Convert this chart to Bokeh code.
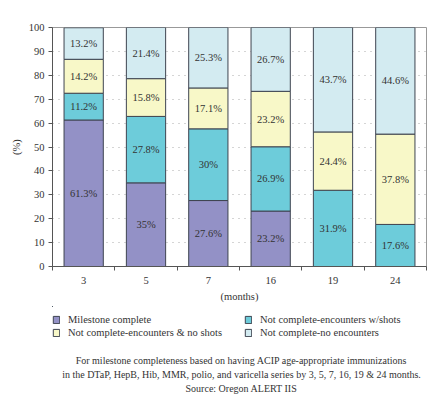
from bokeh.plotting import figure
from bokeh.models import (FixedTicker, ColumnDataSource, Legend, LegendItem, Label,
                          Range1d, LabelSet)
from bokeh.layouts import column
from bokeh.embed import file_html
from bokeh.resources import INLINE

months = ["3", "5", "7", "16", "19", "24"]
series = ["Milestone complete", "Not complete-encounters w/shots",
          "Not complete-encounters & no shots", "Not complete-no encounters"]
milestone = [61.3, 35, 27.6, 23.2, 0, 0]
w_shots = [11.2, 27.8, 30, 26.9, 31.9, 17.6]
no_shots = [14.2, 15.8, 17.1, 23.2, 24.4, 37.8]
no_enc = [13.2, 21.4, 25.3, 26.7, 43.7, 44.6]
colors = ["#9391C6", "#6DCCDA", "#F8F8C8", "#D3EBF1"]
caption = ["For milestone completeness based on having ACIP age-appropriate immunizations",
           "in the DTaP, HepB, Hib, MMR, polio, and varicella series by 3, 5, 7, 16, 19 & 24 months.",
           "Source: Oregon ALERT IIS"]

FONT = "Liberation Serif"
TXT = "#333333"
OUT = "#3e4450"
xs = [i + 0.5 for i in range(len(months))]
data = [milestone, w_shots, no_shots, no_enc]

p = figure(width=430, height=306, output_backend="svg", toolbar_location=None,
           x_range=Range1d(0, len(months)), y_range=Range1d(0, 100),
           min_border_left=52, min_border_top=27, min_border_right=4,
           min_border_bottom=40)
p.outline_line_color = "#999999"
p.background_fill_color = "white"
p.border_fill_color = "white"

bottoms = [0.0] * len(months)
lx, ly, lt = [], [], []
for vals, col in zip(data, colors):
    tops = [b + v for b, v in zip(bottoms, vals)]
    src = ColumnDataSource(dict(x=xs, bottom=bottoms, top=tops))
    p.vbar(x="x", bottom="bottom", top="top", width=0.63, source=src,
           fill_color=col, line_color=OUT, line_width=1)
    for x, b, v in zip(xs, bottoms, vals):
        if v > 0:
            lx.append(x)
            ly.append(b + v / 2)
            lt.append(f"{v:g}%")
    bottoms = tops

lsrc = ColumnDataSource(dict(x=lx, y=ly, t=lt))
p.add_layout(LabelSet(x="x", y="y", text="t", source=lsrc, text_align="center",
                      text_baseline="middle", text_font=FONT, text_font_size="10.5px",
                      text_color=TXT))

# axes
p.xaxis.ticker = FixedTicker(ticks=xs, minor_ticks=list(range(len(months) + 1)))
p.xaxis.major_label_overrides = {x: m for x, m in zip(xs, months)}
p.xaxis.major_tick_out = 0
p.xaxis.major_tick_in = 0
p.xaxis.minor_tick_out = 4
p.xaxis.minor_tick_in = 0
p.xaxis.axis_label = "(months)"
p.yaxis.ticker = FixedTicker(ticks=list(range(0, 101, 10)))
p.yaxis.axis_label = "(%)"
p.yaxis.major_tick_out = 4
p.yaxis.major_tick_in = 0
p.yaxis.minor_tick_out = 0
for ax in (p.xaxis, p.yaxis):
    ax.axis_line_color = "#555555"
    ax.major_tick_line_color = "#555555"
    ax.minor_tick_line_color = "#555555"
    ax.major_label_text_font = FONT
    ax.major_label_text_font_size = "10.5px"
    ax.major_label_text_color = TXT
    ax.axis_label_text_font = FONT
    ax.axis_label_text_font_size = "10.5px"
    ax.axis_label_text_font_style = "normal"
    ax.axis_label_text_color = TXT
p.yaxis.axis_label_standoff = 4
p.yaxis.major_label_standoff = 4
p.xaxis.axis_label_standoff = 4
p.xaxis.major_label_standoff = 6

p.xgrid.grid_line_color = None
p.ygrid.grid_line_color = "#aaaaaa"
p.ygrid.grid_line_dash = "1 5"

# legend + caption panel (its frame is aligned with the chart frame: x 52..426)
H2 = 90
p2 = figure(width=430, height=H2, output_backend="svg", toolbar_location=None,
            x_range=Range1d(1000, 1430), y_range=Range1d(-1000, -1000 + H2),
            x_axis_location=None, y_axis_location=None,
            min_border=0, min_border_left=0, min_border_right=0,
            min_border_top=0, min_border_bottom=0)
p2.grid.visible = False
p2.outline_line_color = None
p2.border_fill_color = "white"

lrs = []
for vals, col in zip(data, colors):
    src = ColumnDataSource(dict(x=xs, top=vals))
    lrs.append(p2.vbar(x="x", top="top", width=0.63, source=src, fill_color=col,
                       line_color=OUT, line_width=1))

cols = [[0, 2], [1, 3]]
for ci, idxs in enumerate(cols):
    lg = Legend(items=[LegendItem(label=series[i], renderers=[lrs[i]]) for i in idxs],
                location=(0 + ci * 192, 58), orientation="vertical",
                label_text_font=FONT, label_text_font_size="10.5px",
                label_text_color=TXT, glyph_width=8, glyph_height=9,
                label_height=12, label_standoff=8, spacing=1, padding=0, margin=0,
                border_line_color=None, background_fill_alpha=0)
    p2.add_layout(lg)

for k, line in enumerate(caption):
    p2.add_layout(Label(x=189, y=36 - 14 * k, x_units="screen", y_units="screen",
                        text=line, text_align="center", text_baseline="middle",
                        text_font=FONT, text_font_size="10px", text_color=TXT))

layout = column(p, p2, spacing=0)
open("out.html", "w").write(file_html(layout, INLINE))
